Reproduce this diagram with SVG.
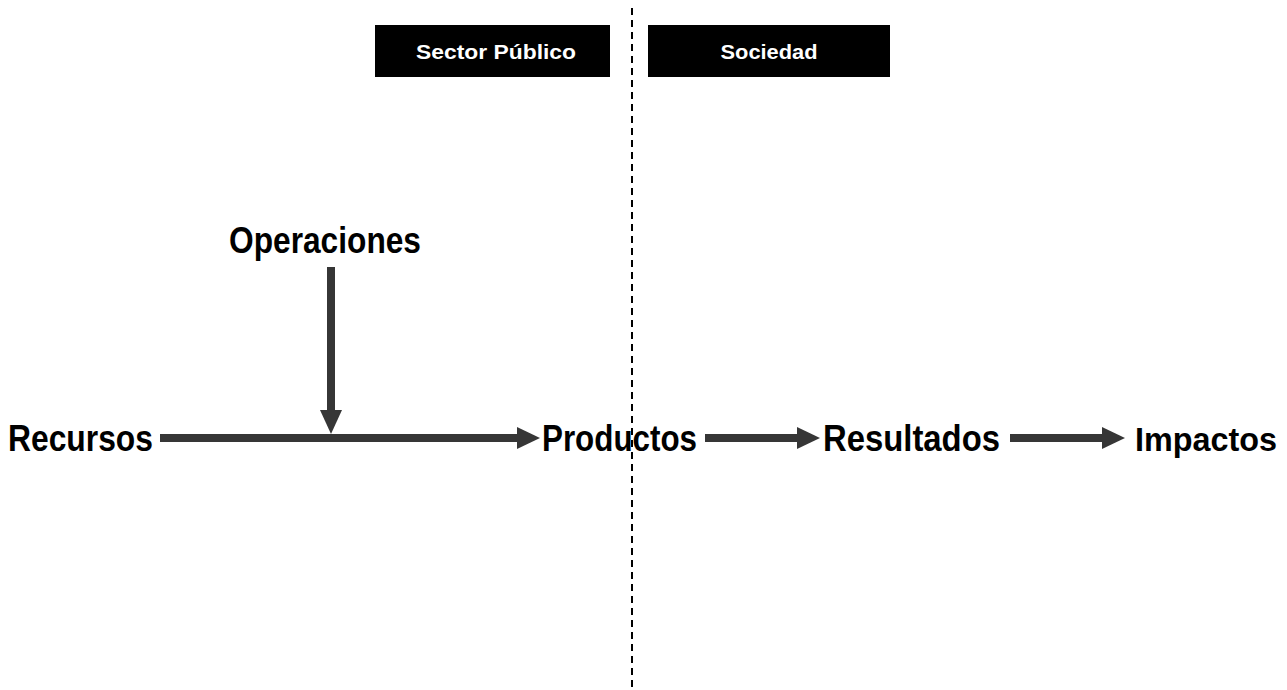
<svg xmlns="http://www.w3.org/2000/svg" width="1287" height="690" viewBox="0 0 1287 690">
<style>
.lbl{font-family:"Liberation Sans",Arial,sans-serif;font-weight:bold;font-size:36px;fill:#000}
.hdr{font-family:"Liberation Sans",Arial,sans-serif;font-weight:bold;font-size:21px;fill:#fff}
.hbox{fill:#000}
.conn{stroke:#363636;stroke-width:8;fill:none}
.head{fill:#363636}
</style>
<rect width="1287" height="690" fill="#fff"/>
<g id="divider"><line x1="632" y1="8" x2="632" y2="690" stroke="#000" stroke-width="2" stroke-dasharray="7,5"/></g>
<g id="sector-publico"><rect class="hbox" x="375" y="25" width="235" height="52"/><text class="hdr" x="496" y="59" text-anchor="middle" textLength="160" lengthAdjust="spacingAndGlyphs">Sector Público</text></g>
<g id="sociedad"><rect class="hbox" x="648" y="25" width="242" height="52"/><text class="hdr" x="769" y="59" text-anchor="middle" textLength="97" lengthAdjust="spacingAndGlyphs">Sociedad</text></g>
<g id="operaciones"><text class="lbl" x="229" y="253" textLength="192" lengthAdjust="spacingAndGlyphs">Operaciones</text></g>
<g id="recursos"><text class="lbl" x="8" y="451" textLength="145" lengthAdjust="spacingAndGlyphs">Recursos</text></g>
<g id="productos"><text class="lbl" x="542" y="451" textLength="155" lengthAdjust="spacingAndGlyphs">Productos</text></g>
<g id="resultados"><text class="lbl" x="823" y="451" textLength="177" lengthAdjust="spacingAndGlyphs">Resultados</text></g>
<g id="impactos"><text class="lbl" x="1135" y="451" textLength="142" lengthAdjust="spacingAndGlyphs" style="font-size:34px">Impactos</text></g>
<g id="connectors">
<line class="conn" x1="331" y1="267" x2="331" y2="412"/>
<polygon class="head" points="320,410 342,410 331,434"/>
<line class="conn" x1="160" y1="438" x2="520" y2="438"/>
<polygon class="head" points="517,427 517,449 540,438"/>
<line class="conn" x1="705" y1="438" x2="800" y2="438"/>
<polygon class="head" points="797,427 797,449 820,438"/>
<line class="conn" x1="1010" y1="438" x2="1105" y2="438"/>
<polygon class="head" points="1102,427 1102,449 1125,438"/>
</g>
</svg>
